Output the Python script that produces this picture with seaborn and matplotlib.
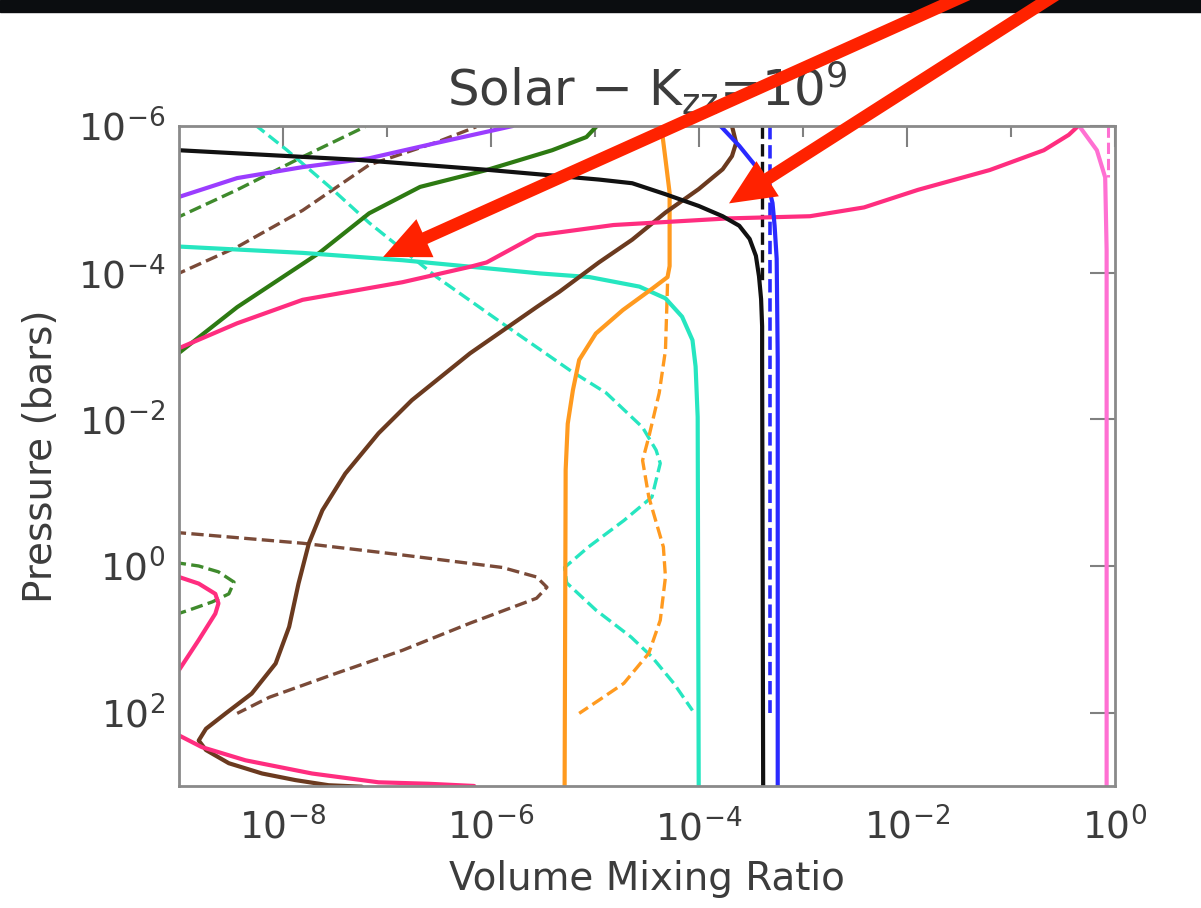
import numpy as np
import matplotlib
matplotlib.use('Agg')
import matplotlib.pyplot as plt
import seaborn as sns
from matplotlib.patches import FancyArrowPatch, Rectangle
from matplotlib.ticker import FixedLocator, FixedFormatter, NullLocator, NullFormatter

sns.set_style('white')
plt.rcParams['font.family'] = ['DejaVu Sans']
plt.rcParams['mathtext.default'] = 'regular'

# all profiles as log10(volume mixing ratio) vs log10(pressure / bar)
black_x = [-9.0, -7.29, -6.01, -4.96, -4.64, -4.32, -4.00, -3.77, -3.61, -3.51, -3.45, -3.42,
           -3.40, -3.39, -3.39, -3.38]
black_p = [-5.67, -5.54, -5.40, -5.27, -5.22, -5.07, -4.91, -4.77, -4.64, -4.46, -4.23, -3.95,
           -3.64, -3.27, -2.82, 3.0]
black_dash_x = [-3.39, -3.39]
black_dash_p = [-6.0, -3.9]

blue_x = [-3.79, -3.61, -3.45, -3.34, -3.29, -3.27, -3.25, -3.24, -3.24]
blue_p = [-6.0, -5.73, -5.45, -5.23, -4.95, -4.64, -4.19, -2.82, 3.0]
blue_dash_x = [-3.31, -3.31]
blue_dash_p = [-6.0, 2.0]

pink_top_x = [-9.0, -8.44, -7.81, -6.85, -6.20, -6.04, -5.56, -5.34, -4.82, -3.72, -2.93, -2.41, -1.89,
              -1.20, -0.68, -0.44, -0.35]
pink_top_p = [-2.97, -3.31, -3.63, -3.87, -4.08, -4.14, -4.51, -4.55, -4.65, -4.74, -4.77, -4.89, -5.13,
              -5.40, -5.67, -5.88, -6.0]
pink_loop_x = [-9.1, -9.0, -8.81, -8.65, -8.62, -8.65, -8.81, -9.0, -9.1]
pink_loop_p = [0.08, 0.15, 0.24, 0.38, 0.51, 0.65, 1.01, 1.42, 1.56]
pink_bot_x = [-9.1, -9.0, -8.78, -8.36, -7.72, -7.08, -6.60, -6.16]
pink_bot_p = [2.25, 2.31, 2.47, 2.65, 2.83, 2.95, 2.97, 3.0]

orchid_x = [-0.34, -0.17, -0.09, -0.076, -0.076]
orchid_p = [-6.0, -5.67, -5.30, -4.31, 3.0]
orchid_dash_x = [-0.066, -0.066]
orchid_dash_p = [-6.0, -5.3]

brown_x = [-3.68, -3.64, -3.68, -3.77, -4.00, -4.32, -4.64, -4.96, -5.34, -5.56, -6.20, -6.76, -7.08,
           -7.40, -7.62, -7.75, -7.85, -7.94, -8.07, -8.30, -8.55, -8.74, -8.81, -8.74, -8.52, -8.20,
           -7.88, -7.56, -7.24]
brown_p = [-6.0, -5.77, -5.59, -5.41, -5.14, -4.82, -4.45, -4.14, -3.74, -3.53, -2.90, -2.26, -1.81,
           -1.26, -0.76, -0.31, 0.24, 0.83, 1.33, 1.74, 2.01, 2.22, 2.38, 2.51, 2.69, 2.83,
           2.92, 2.99, 3.01]
brown_dash1_x = [-9.05, -8.44, -7.81, -7.17, -6.52, -6.14]
brown_dash1_p = [-3.96, -4.35, -4.85, -5.47, -5.78, -5.99]
brown_dash2_x = [-9.05, -7.81, -6.85, -5.89, -5.56, -5.46, -5.56, -6.20, -6.85, -7.48, -8.13, -8.44]
brown_dash2_p = [-0.46, -0.31, -0.15, 0.02, 0.15, 0.29, 0.44, 0.78, 1.15, 1.46, 1.79, 2.01]

green_x = [-9.05, -8.44, -7.65, -7.17, -6.68, -6.04, -5.41, -5.08, -4.98]
green_p = [-2.85, -3.53, -4.27, -4.81, -5.17, -5.40, -5.67, -5.85, -6.0]
green_dash1_x = [-9.05, -8.44, -7.81, -7.21]
green_dash1_p = [-4.73, -5.13, -5.58, -5.99]
green_dash2_x = [-9.05, -8.81, -8.62, -8.47, -8.52, -8.68, -8.90, -9.05]
green_dash2_p = [-0.05, 0.0, 0.08, 0.22, 0.38, 0.49, 0.60, 0.67]

purple_x = [-9.05, -8.44, -7.81, -7.17, -6.52, -5.79]
purple_p = [-5.01, -5.29, -5.44, -5.56, -5.77, -6.0]

cyan_x = [-9.05, -7.81, -6.85, -5.89, -5.53, -5.05, -4.57, -4.32, -4.16, -4.06, -4.03, -4.01, -4.0]
cyan_p = [-4.36, -4.27, -4.17, -4.04, -3.99, -3.94, -3.81, -3.65, -3.40, -3.08, -2.72, -2.03, 3.0]
cyan_dash_x = [-8.27, -7.96, -7.55, -7.17, -6.52, -5.89, -5.24, -4.89, -4.54, -4.41, -4.37, -4.45,
               -4.72, -5.06, -5.29, -5.27, -4.99, -4.65, -4.45, -4.24, -4.06]
cyan_dash_p = [-6.02, -5.67, -5.17, -4.68, -3.94, -3.31, -2.67, -2.36, -1.89, -1.58, -1.40, -0.94,
               -0.62, -0.26, 0.02, 0.23, 0.60, 0.97, 1.24, 1.60, 1.97]

orange_x = [-4.36, -4.32, -4.28, -4.28, -4.28, -4.30, -4.44, -4.73, -4.99, -5.15, -5.21, -5.26, -5.28, -5.29]
orange_p = [-6.0, -5.55, -5.09, -4.64, -4.09, -3.94, -3.79, -3.49, -3.17, -2.81, -2.40, -1.94, -1.31, 3.0]
orange_dash_x = [-4.30, -4.32, -4.38, -4.48, -4.54, -4.48, -4.34, -4.32, -4.37, -4.48, -4.72, -4.96, -5.15]
orange_dash_p = [-3.85, -2.94, -2.36, -1.76, -1.44, -0.94, -0.26, 0.15, 0.74, 1.19, 1.60, 1.83, 2.01]

x_ticks = [1e-8, 1e-6, 1e-4, 1e-2, 1e0]
x_minor = [1e-7, 1e-5, 1e-3, 1e-1]
x_labels = [r'$10^{-8}$', r'$10^{-6}$', r'$10^{-4}$', r'$10^{-2}$', r'$10^{0}$']
y_ticks = [1e-6, 1e-4, 1e-2, 1e0, 1e2]
y_labels = [r'$10^{-6}$', r'$10^{-4}$', r'$10^{-2}$', r'$10^{0}$', r'$10^{2}$']

BLACK = '#111111'
BLUE = '#2a2aff'
PINK = '#ff2d7f'
ORCHID = '#ff70d2'
BROWN = '#6b3a1f'
BROWN_D = '#7a4a38'
GREEN = '#2d7a12'
GREEN_D = '#3f8a2c'
PURPLE = '#9b3dff'
CYAN = '#26e6c0'
ORANGE = '#ff9a1f'

fig = plt.figure(figsize=(12.01, 9.08), dpi=100)
ax = fig.add_axes([0.149, 0.1344, 0.779, 0.7268])

def prof(xs, ps, color, dashed=False, lw=3.0):
    kw = dict(linestyle='--', dashes=(4.0, 2.4)) if dashed else {}
    sns.lineplot(x=10 ** np.array(xs), y=10 ** np.array(ps), sort=False, estimator=None,
                 color=color, linewidth=lw, ax=ax, **kw)

# dashed profiles
prof(black_dash_x, black_dash_p, BLACK, True, 2.4)
prof(blue_dash_x, blue_dash_p, BLUE, True, 2.6)
prof(orchid_dash_x, orchid_dash_p, ORCHID, True, 2.2)
prof(brown_dash1_x, brown_dash1_p, BROWN_D, True, 2.4)
prof(brown_dash2_x, brown_dash2_p, BROWN_D, True, 2.4)
prof(green_dash1_x, green_dash1_p, GREEN_D, True, 2.4)
prof(green_dash2_x, green_dash2_p, GREEN_D, True, 2.4)
prof(cyan_dash_x, cyan_dash_p, CYAN, True, 2.4)
prof(orange_dash_x, orange_dash_p, ORANGE, True, 2.4)

# solid profiles
prof(purple_x, purple_p, PURPLE)
prof(green_x, green_p, GREEN)
prof(cyan_x, cyan_p, CYAN)
prof(orange_x, orange_p, ORANGE)
prof(brown_x, brown_p, BROWN)
prof(pink_top_x, pink_top_p, PINK)
prof(pink_loop_x, pink_loop_p, PINK)
prof(pink_bot_x, pink_bot_p, PINK)
prof(orchid_x, orchid_p, ORCHID)
prof(black_x, black_p, BLACK)
prof(blue_x, blue_p, BLUE)

ax.set_xscale('log')
ax.set_yscale('log')
ax.set_xlim(1e-9, 1e0)
ax.set_ylim(1e3, 1e-6)

ax.xaxis.set_major_locator(FixedLocator(x_ticks))
ax.xaxis.set_major_formatter(FixedFormatter(x_labels))
ax.xaxis.set_minor_locator(FixedLocator(x_minor))
ax.xaxis.set_minor_formatter(NullFormatter())
ax.yaxis.set_major_locator(FixedLocator(y_ticks))
ax.yaxis.set_major_formatter(FixedFormatter(y_labels))
ax.yaxis.set_minor_locator(NullLocator())

txt = '#3c3c3c'
ax.tick_params(which='both', direction='in', top=True, right=True, color='#808080', width=1.5)
ax.tick_params(axis='x', which='major', length=15, pad=16, labelsize=27, labelcolor=txt)
ax.tick_params(axis='x', which='minor', length=8)
ax.tick_params(axis='y', which='major', length=18, pad=10, labelsize=27, labelcolor=txt)
for s in ax.spines.values():
    s.set_color('#8a8a8a')
    s.set_linewidth(2)

ax.set_xlabel('Volume Mixing Ratio', fontsize=28, color=txt, labelpad=9)
ax.set_ylabel('Pressure (bars)', fontsize=28, color=txt, labelpad=13)
ax.set_title(r'Solar $-$ K$_{zz}$=10$^{9}$', fontsize=36, color=txt, pad=14)

# dark strip along the top edge of the screenshot
fig.add_artist(Rectangle((0, 1 - 12 / 908), 1, 12 / 908, transform=fig.transFigure,
                         color='#0b0d10', zorder=5))

# red annotation arrows
for tail, tip in [((0.812, 1.01), (0.319, 0.717)), ((0.884, 1.01), (0.607, 0.776))]:
    fig.add_artist(FancyArrowPatch(tail, tip, transform=fig.transFigure,
                                   arrowstyle='simple,head_length=1.1,head_width=1.0,tail_width=0.3',
                                   mutation_scale=30, color='#ff2200', lw=0,
                                   shrinkA=0, shrinkB=0, zorder=10))

fig.savefig('out.png', dpi=100)
